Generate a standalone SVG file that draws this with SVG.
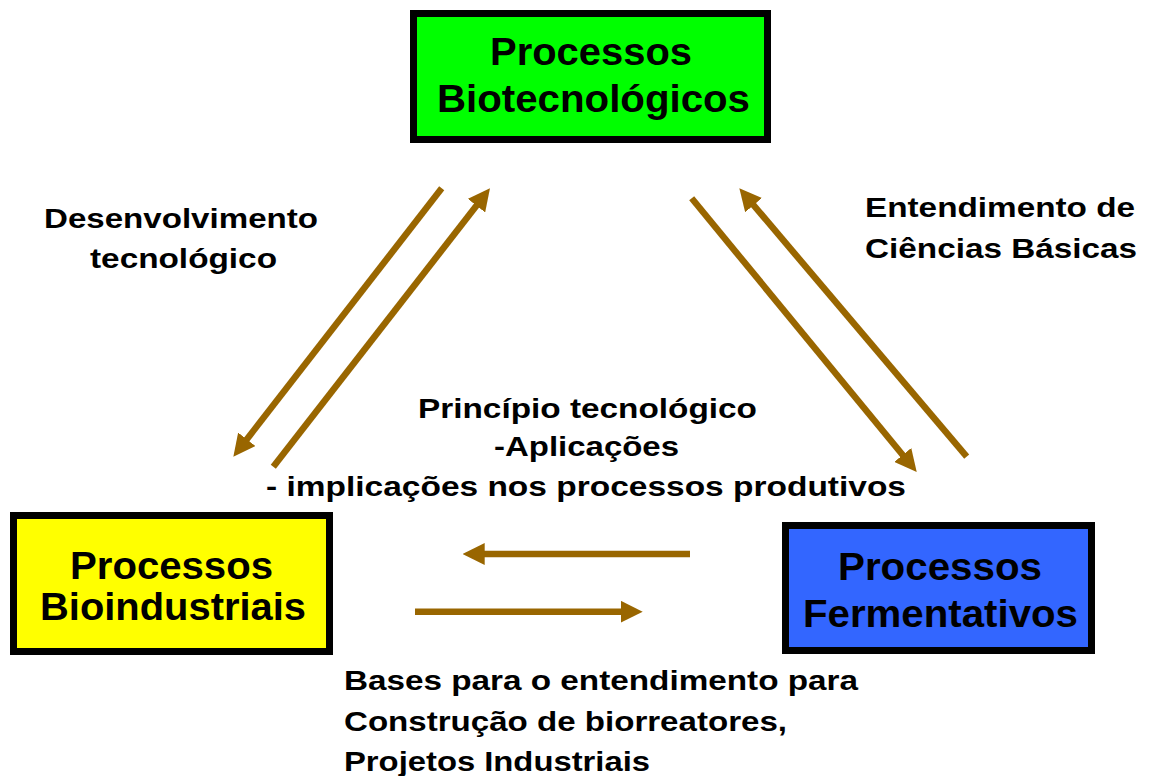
<svg xmlns="http://www.w3.org/2000/svg" width="1149" height="776" viewBox="0 0 1149 776">
<style>
  .box { stroke: #000; stroke-width: 7; }
  .nt { font-family: "Liberation Sans", Arial, sans-serif; font-weight: bold; font-size: 39px; fill: #000; text-anchor: middle; }
  .lb { font-family: "Liberation Sans", Arial, sans-serif; font-weight: bold; font-size: 28px; fill: #000; }
  .mid { text-anchor: middle; }
  .arr { stroke: #996600; stroke-width: 6.5; fill: none; marker-end: url(#ah); }
</style>
<defs>
  <marker id="ah" markerUnits="userSpaceOnUse" markerWidth="22" markerHeight="22" viewBox="0 0 22 22" refX="10" refY="11" orient="auto">
    <path d="M0,0 L22,11 L0,22 z" fill="#996600"/>
  </marker>
</defs>
<rect width="1149" height="776" fill="#fff"/>

<g id="node-biotec">
  <rect class="box" x="413.5" y="13.5" width="354" height="126" fill="#00FF00"/>
  <text class="nt" x="591" y="65" textLength="202" lengthAdjust="spacingAndGlyphs">Processos</text>
  <text class="nt" x="593.5" y="112" textLength="313" lengthAdjust="spacingAndGlyphs">Biotecnológicos</text>
</g>

<g id="node-bioind">
  <rect class="box" x="13.5" y="515.5" width="316" height="136" fill="#FFFF00"/>
  <text class="nt" x="171.5" y="579" textLength="203" lengthAdjust="spacingAndGlyphs">Processos</text>
  <text class="nt" x="173" y="620" textLength="266" lengthAdjust="spacingAndGlyphs">Bioindustriais</text>
</g>

<g id="node-ferm">
  <rect class="box" x="785.5" y="525.5" width="306" height="125" fill="#3366FF"/>
  <text class="nt" x="940" y="580" textLength="204" lengthAdjust="spacingAndGlyphs">Processos</text>
  <text class="nt" x="940.5" y="627" textLength="275" lengthAdjust="spacingAndGlyphs">Fermentativos</text>
</g>

<g id="connectors">
  <line class="arr" x1="441.7" y1="188.3" x2="240.7" y2="447.2"/>
  <line class="arr" x1="273.3" y1="466.7" x2="482.6" y2="197.8"/>
  <line class="arr" x1="691.7" y1="198.3" x2="909.1" y2="462.7"/>
  <line class="arr" x1="966.7" y1="456.7" x2="747.1" y2="197.5"/>
  <line class="arr" x1="690" y1="554" x2="474.7" y2="554"/>
  <line class="arr" x1="415" y1="611.7" x2="630.7" y2="611.7"/>
</g>

<g id="labels">
  <text class="lb mid" x="181" y="228" textLength="274" lengthAdjust="spacingAndGlyphs">Desenvolvimento</text>
  <text class="lb mid" x="183.5" y="268" textLength="187" lengthAdjust="spacingAndGlyphs">tecnológico</text>

  <text class="lb" x="865" y="217" textLength="270" lengthAdjust="spacingAndGlyphs">Entendimento de</text>
  <text class="lb" x="865" y="258" textLength="272" lengthAdjust="spacingAndGlyphs">Ciências Básicas</text>

  <text class="lb mid" x="587.5" y="418" textLength="339" lengthAdjust="spacingAndGlyphs">Princípio tecnológico</text>
  <text class="lb mid" x="586.5" y="456" textLength="185" lengthAdjust="spacingAndGlyphs">-Aplicações</text>
  <text class="lb mid" x="586" y="496" textLength="640" lengthAdjust="spacingAndGlyphs">- implicações nos processos produtivos</text>

  <text class="lb" x="344" y="690" textLength="514" lengthAdjust="spacingAndGlyphs">Bases para o entendimento para</text>
  <text class="lb" x="344" y="731" textLength="443" lengthAdjust="spacingAndGlyphs">Construção de biorreatores,</text>
  <text class="lb" x="344" y="771" textLength="306" lengthAdjust="spacingAndGlyphs">Projetos Industriais</text>
</g>
</svg>
